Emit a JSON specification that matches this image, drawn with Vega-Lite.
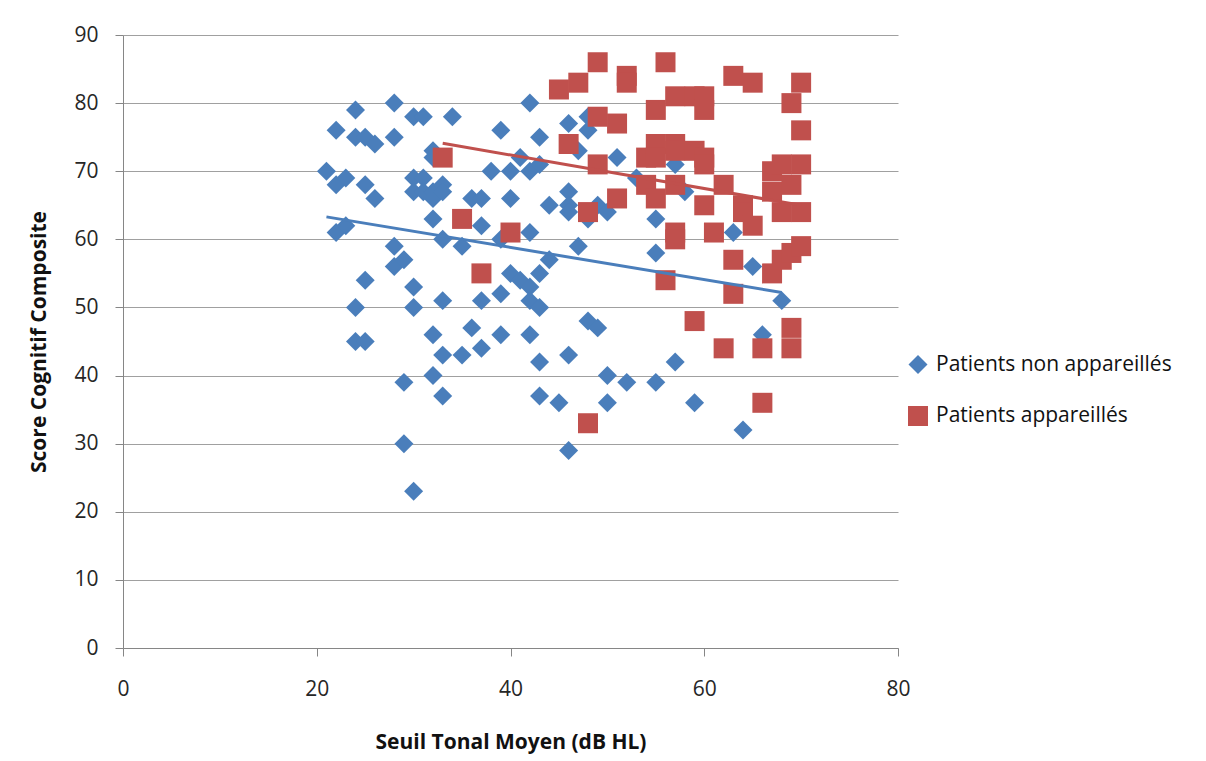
{
  "$schema": "https://vega.github.io/schema/vega-lite/v6.json",
  "autosize": "none",
  "width": 775,
  "height": 613,
  "padding": {"left": 123, "top": 35, "right": 308, "bottom": 113},
  "background": "white",
  "config": {
    "view": {"stroke": null},
    "font": "Open Sans"
  },
  "datasets": {
    "pts": [
      {"series":"Patients non appareillés","x":21,"y":70},{"series":"Patients non appareillés","x":22,"y":76},{"series":"Patients non appareillés","x":22,"y":68},{"series":"Patients non appareillés","x":23,"y":69},{"series":"Patients non appareillés","x":22,"y":61},{"series":"Patients non appareillés","x":23,"y":62},{"series":"Patients non appareillés","x":24,"y":79},{"series":"Patients non appareillés","x":24,"y":75},{"series":"Patients non appareillés","x":25,"y":75},{"series":"Patients non appareillés","x":25,"y":68},{"series":"Patients non appareillés","x":26,"y":74},{"series":"Patients non appareillés","x":26,"y":66},{"series":"Patients non appareillés","x":25,"y":54},{"series":"Patients non appareillés","x":24,"y":50},{"series":"Patients non appareillés","x":24,"y":45},{"series":"Patients non appareillés","x":25,"y":45},
      {"series":"Patients non appareillés","x":28,"y":80},{"series":"Patients non appareillés","x":28,"y":75},{"series":"Patients non appareillés","x":28,"y":59},{"series":"Patients non appareillés","x":28,"y":56},{"series":"Patients non appareillés","x":29,"y":57},{"series":"Patients non appareillés","x":29,"y":39},{"series":"Patients non appareillés","x":29,"y":30},{"series":"Patients non appareillés","x":30,"y":23},{"series":"Patients non appareillés","x":30,"y":78},{"series":"Patients non appareillés","x":31,"y":78},{"series":"Patients non appareillés","x":30,"y":69},{"series":"Patients non appareillés","x":30,"y":67},{"series":"Patients non appareillés","x":31,"y":69},{"series":"Patients non appareillés","x":31,"y":67},{"series":"Patients non appareillés","x":30,"y":53},{"series":"Patients non appareillés","x":30,"y":50},
      {"series":"Patients non appareillés","x":32,"y":73},{"series":"Patients non appareillés","x":32,"y":72},{"series":"Patients non appareillés","x":32,"y":67},{"series":"Patients non appareillés","x":32,"y":66},{"series":"Patients non appareillés","x":33,"y":68},{"series":"Patients non appareillés","x":33,"y":67},{"series":"Patients non appareillés","x":32,"y":63},{"series":"Patients non appareillés","x":33,"y":60},{"series":"Patients non appareillés","x":32,"y":46},{"series":"Patients non appareillés","x":33,"y":51},{"series":"Patients non appareillés","x":33,"y":43},{"series":"Patients non appareillés","x":32,"y":40},{"series":"Patients non appareillés","x":33,"y":37},{"series":"Patients non appareillés","x":34,"y":78},{"series":"Patients non appareillés","x":35,"y":59},{"series":"Patients non appareillés","x":35,"y":43},
      {"series":"Patients non appareillés","x":36,"y":66},{"series":"Patients non appareillés","x":37,"y":66},{"series":"Patients non appareillés","x":37,"y":62},{"series":"Patients non appareillés","x":36,"y":47},{"series":"Patients non appareillés","x":37,"y":51},{"series":"Patients non appareillés","x":37,"y":44},{"series":"Patients non appareillés","x":38,"y":70},{"series":"Patients non appareillés","x":39,"y":76},{"series":"Patients non appareillés","x":39,"y":60},{"series":"Patients non appareillés","x":39,"y":52},{"series":"Patients non appareillés","x":39,"y":46},{"series":"Patients non appareillés","x":40,"y":70},{"series":"Patients non appareillés","x":40,"y":66},{"series":"Patients non appareillés","x":40,"y":55},{"series":"Patients non appareillés","x":41,"y":72},{"series":"Patients non appareillés","x":41,"y":54},
      {"series":"Patients non appareillés","x":42,"y":80},{"series":"Patients non appareillés","x":42,"y":70},{"series":"Patients non appareillés","x":42,"y":61},{"series":"Patients non appareillés","x":42,"y":53},{"series":"Patients non appareillés","x":42,"y":51},{"series":"Patients non appareillés","x":42,"y":46},{"series":"Patients non appareillés","x":43,"y":75},{"series":"Patients non appareillés","x":43,"y":71},{"series":"Patients non appareillés","x":43,"y":55},{"series":"Patients non appareillés","x":43,"y":50},{"series":"Patients non appareillés","x":43,"y":42},{"series":"Patients non appareillés","x":43,"y":37},{"series":"Patients non appareillés","x":44,"y":65},{"series":"Patients non appareillés","x":44,"y":57},{"series":"Patients non appareillés","x":45,"y":36},
      {"series":"Patients non appareillés","x":46,"y":77},{"series":"Patients non appareillés","x":46,"y":67},{"series":"Patients non appareillés","x":46,"y":65},{"series":"Patients non appareillés","x":46,"y":64},{"series":"Patients non appareillés","x":46,"y":43},{"series":"Patients non appareillés","x":46,"y":29},{"series":"Patients non appareillés","x":47,"y":73},{"series":"Patients non appareillés","x":47,"y":59},{"series":"Patients non appareillés","x":48,"y":78},{"series":"Patients non appareillés","x":48,"y":76},{"series":"Patients non appareillés","x":48,"y":63},{"series":"Patients non appareillés","x":48,"y":48},{"series":"Patients non appareillés","x":49,"y":65},{"series":"Patients non appareillés","x":49,"y":47},{"series":"Patients non appareillés","x":50,"y":64},{"series":"Patients non appareillés","x":50,"y":40},{"series":"Patients non appareillés","x":50,"y":36},
      {"series":"Patients non appareillés","x":51,"y":72},{"series":"Patients non appareillés","x":52,"y":39},{"series":"Patients non appareillés","x":53,"y":69},{"series":"Patients non appareillés","x":55,"y":63},{"series":"Patients non appareillés","x":55,"y":58},{"series":"Patients non appareillés","x":55,"y":39},{"series":"Patients non appareillés","x":57,"y":71},{"series":"Patients non appareillés","x":57,"y":42},{"series":"Patients non appareillés","x":58,"y":67},{"series":"Patients non appareillés","x":59,"y":36},{"series":"Patients non appareillés","x":63,"y":61},{"series":"Patients non appareillés","x":64,"y":32},{"series":"Patients non appareillés","x":65,"y":56},{"series":"Patients non appareillés","x":66,"y":46},{"series":"Patients non appareillés","x":68,"y":51},
      {"series":"Patients appareillés","x":33,"y":72},{"series":"Patients appareillés","x":35,"y":63},{"series":"Patients appareillés","x":37,"y":55},{"series":"Patients appareillés","x":40,"y":61},{"series":"Patients appareillés","x":45,"y":82},{"series":"Patients appareillés","x":46,"y":74},{"series":"Patients appareillés","x":47,"y":83},{"series":"Patients appareillés","x":48,"y":64},{"series":"Patients appareillés","x":48,"y":33},{"series":"Patients appareillés","x":49,"y":86},{"series":"Patients appareillés","x":49,"y":78},{"series":"Patients appareillés","x":49,"y":71},{"series":"Patients appareillés","x":51,"y":77},{"series":"Patients appareillés","x":51,"y":66},{"series":"Patients appareillés","x":52,"y":84},{"series":"Patients appareillés","x":52,"y":83},
      {"series":"Patients appareillés","x":54,"y":72},{"series":"Patients appareillés","x":54,"y":68},{"series":"Patients appareillés","x":55,"y":79},{"series":"Patients appareillés","x":55,"y":74},{"series":"Patients appareillés","x":55,"y":72},{"series":"Patients appareillés","x":55,"y":66},{"series":"Patients appareillés","x":56,"y":86},{"series":"Patients appareillés","x":56,"y":54},{"series":"Patients appareillés","x":57,"y":81},{"series":"Patients appareillés","x":57,"y":74},{"series":"Patients appareillés","x":57,"y":73},{"series":"Patients appareillés","x":57,"y":68},{"series":"Patients appareillés","x":57,"y":61},{"series":"Patients appareillés","x":57,"y":60},{"series":"Patients appareillés","x":59,"y":81},{"series":"Patients appareillés","x":59,"y":73},{"series":"Patients appareillés","x":59,"y":48},
      {"series":"Patients appareillés","x":60,"y":81},{"series":"Patients appareillés","x":60,"y":79},{"series":"Patients appareillés","x":60,"y":72},{"series":"Patients appareillés","x":60,"y":71},{"series":"Patients appareillés","x":60,"y":65},{"series":"Patients appareillés","x":61,"y":61},{"series":"Patients appareillés","x":62,"y":68},{"series":"Patients appareillés","x":62,"y":44},{"series":"Patients appareillés","x":63,"y":84},{"series":"Patients appareillés","x":63,"y":57},{"series":"Patients appareillés","x":63,"y":52},{"series":"Patients appareillés","x":64,"y":65},{"series":"Patients appareillés","x":64,"y":64},{"series":"Patients appareillés","x":65,"y":83},{"series":"Patients appareillés","x":65,"y":62},{"series":"Patients appareillés","x":66,"y":44},{"series":"Patients appareillés","x":66,"y":36},
      {"series":"Patients appareillés","x":67,"y":70},{"series":"Patients appareillés","x":67,"y":67},{"series":"Patients appareillés","x":67,"y":55},{"series":"Patients appareillés","x":68,"y":71},{"series":"Patients appareillés","x":68,"y":64},{"series":"Patients appareillés","x":68,"y":57},{"series":"Patients appareillés","x":69,"y":80},{"series":"Patients appareillés","x":69,"y":68},{"series":"Patients appareillés","x":69,"y":58},{"series":"Patients appareillés","x":69,"y":47},{"series":"Patients appareillés","x":69,"y":44},{"series":"Patients appareillés","x":70,"y":83},{"series":"Patients appareillés","x":70,"y":76},{"series":"Patients appareillés","x":70,"y":71},{"series":"Patients appareillés","x":70,"y":64},{"series":"Patients appareillés","x":70,"y":59}
    ],
    "trend": [
      {"series":"Patients non appareillés","x":21,"y":63.3},
      {"series":"Patients non appareillés","x":68,"y":52.2},
      {"series":"Patients appareillés","x":33,"y":74.1},
      {"series":"Patients appareillés","x":70,"y":65.0}
    ]
  },
  "encoding": {
    "x": {
      "field": "x", "type": "quantitative",
      "scale": {"domain": [0, 80], "nice": false},
      "axis": {
        "title": "Seuil Tonal Moyen (dB HL)",
        "values": [0, 20, 40, 60, 80],
        "grid": false,
        "labelFlush": false,
        "domainColor": "#868686", "domainWidth": 1,
        "tickColor": "#868686", "tickSize": 8,
        "labelFont": "Open Sans", "labelFontSize": 21, "labelColor": "#262626",
        "labelPadding": 22,
        "titleFont": "Open Sans", "titleFontSize": 21, "titleFontWeight": "bold", "titleColor": "#111111",
        "titlePadding": 32
      }
    },
    "y": {
      "field": "y", "type": "quantitative",
      "scale": {"domain": [0, 90], "nice": false},
      "axis": {
        "title": "Score Cognitif Composite",
        "values": [0, 10, 20, 30, 40, 50, 60, 70, 80, 90],
        "grid": true, "gridColor": "#A0A0A0", "gridWidth": 1,
        "domainColor": "#868686", "domainWidth": 1,
        "tickColor": "#868686", "tickSize": 8,
        "labelFont": "Open Sans", "labelFontSize": 21, "labelColor": "#262626",
        "labelPadding": 17,
        "titleFont": "Open Sans", "titleFontSize": 21, "titleFontWeight": "bold", "titleColor": "#111111",
        "titlePadding": 24
      }
    }
  },
  "layer": [
    {
      "data": {"name": "pts"},
      "mark": {"type": "point", "filled": true, "opacity": 1},
      "encoding": {
        "color": {
          "field": "series", "type": "nominal",
          "scale": {"domain": ["Patients non appareillés", "Patients appareillés"], "range": ["#4A7EBB", "#C0504D"]},
          "legend": {
            "title": null, "orient": "none", "legendX": 784, "legendY": 319,
            "labelFont": "Open Sans", "labelFontSize": 21, "labelColor": "#111111", "labelLimit": 0,
            "symbolSize": 289, "rowPadding": 26, "labelOffset": 7, "symbolOpacity": 1
          }
        },
        "shape": {
          "field": "series", "type": "nominal",
          "scale": {"domain": ["Patients non appareillés", "Patients appareillés"], "range": ["diamond", "square"]}
        },
        "size": {
          "field": "series", "type": "nominal",
          "scale": {"domain": ["Patients non appareillés", "Patients appareillés"], "range": [360, 400]},
          "legend": null
        }
      }
    },
    {
      "data": {"name": "trend"},
      "transform": [{"filter": "datum.series === 'Patients non appareillés'"}],
      "mark": {"type": "line", "color": "#4A7EBB", "strokeWidth": 3},
      "encoding": {}
    },
    {
      "data": {"name": "trend"},
      "transform": [{"filter": "datum.series === 'Patients appareillés'"}],
      "mark": {"type": "line", "color": "#C0504D", "strokeWidth": 3},
      "encoding": {}
    }
  ]
}
